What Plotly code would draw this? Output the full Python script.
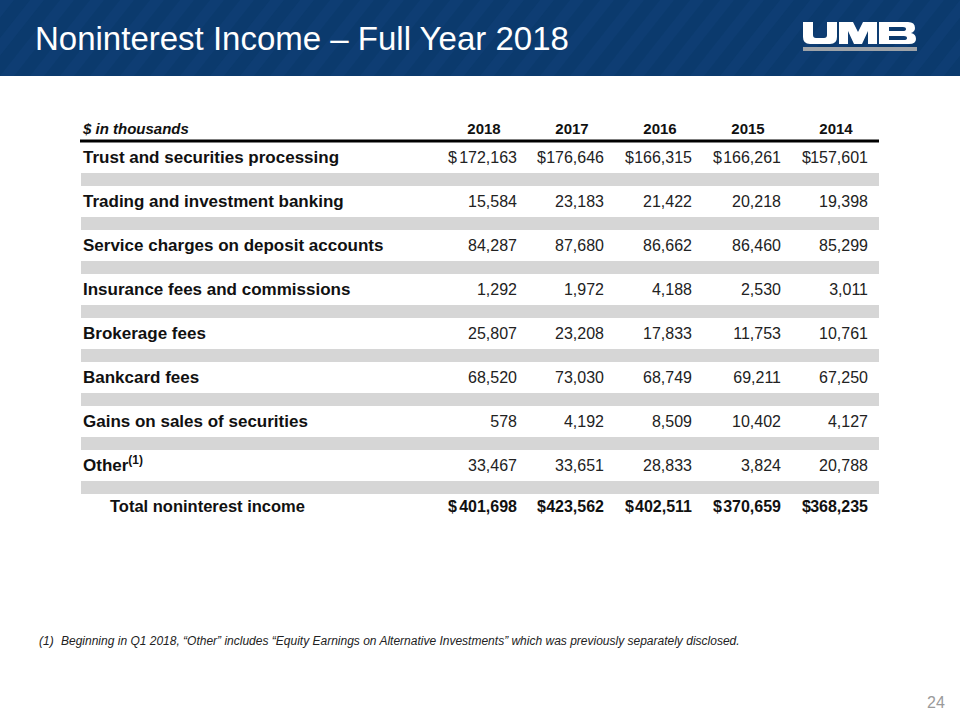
import plotly.graph_objects as go

# ---------------- data ----------------
categories = [
    "Trust and securities processing",
    "Trading and investment banking",
    "Service charges on deposit accounts",
    "Insurance fees and commissions",
    "Brokerage fees",
    "Bankcard fees",
    "Gains on sales of securities",
    "Other<sup>(1)</sup>",
]
years = ["2018", "2017", "2016", "2015", "2014"]
v2018 = [172163, 15584, 84287, 1292, 25807, 68520, 578, 33467]
v2017 = [176646, 23183, 87680, 1972, 23208, 73030, 4192, 33651]
v2016 = [166315, 21422, 86662, 4188, 17833, 68749, 8509, 28833]
v2015 = [166261, 20218, 86460, 2530, 11753, 69211, 10402, 3824]
v2014 = [157601, 19398, 85299, 3011, 10761, 67250, 4127, 20788]
totals = [401698, 423562, 402511, 370659, 368235]
total_label = "Total noninterest income"
unit_label = "$ in thousands"
title = "Noninterest Income – Full Year 2018"
footnote = "Beginning in Q1 2018, “Other” includes “Equity Earnings on Alternative Investments” which was previously separately disclosed."
page_no = "24"

series = [v2018, v2017, v2016, v2015, v2014]

# ---------------- layout geometry (pixel space) ----------------
W, H = 960, 720
col_right = [517, 604, 692, 781, 868]
col_dollar = [448, 537, 625, 713, 802]
col_center = [484, 572, 660, 748, 836]
row_y0, row_pitch = 157, 44
band_y0 = 173
label_x = 83
header_y = 130
FONT = "Liberation Sans, Arial"

fig = go.Figure()

# header band
shapes = [dict(type="rect", xref="x", yref="y", x0=0, x1=W, y0=0, y1=76,
               fillcolor="#0b3a6d", line_width=0, layer="below")]
for k in range(-3, 40):
    x0 = k * 30
    shapes.append(dict(type="path", xref="x", yref="y",
                       path=f"M{x0},76 L{x0+14},76 L{x0+14+60},0 L{x0+60},0 Z",
                       fillcolor="#12437a", line_width=0, layer="below", opacity=0.45))
# logo
umb_u = "M803,22 L813,22 L813,35 Q813,38 816,38 L824,38 Q827,38 827,35 L827,22 L837,22 L837,37 Q837,44 830,44 L810,44 Q803,44 803,37 Z"
umb_m = "M839,22 L853,22 L858,32 L863,22 L877,22 L877,44 L868,44 L868,31 L862,44 L854,44 L848,31 L848,44 L839,44 Z"
umb_b = ("M879,22 L908,22 Q915,22 915,28 Q915,31.5 911,33 Q916,34 916,39 Q916,44 909,44 L879,44 Z "
         "M889,27 L903,27 Q906,27 906,29 Q906,31 903,31 L889,31 Z "
         "M889,36 L904,36 Q907,36 907,38 Q907,40 904,40 L889,40 Z")
for p in (umb_u, umb_m, umb_b):
    shapes.append(dict(type="path", xref="x", yref="y", path=p, fillcolor="white",
                       line_width=0, fillrule="evenodd"))
shapes.append(dict(type="rect", xref="x", yref="y", x0=803, x1=917, y0=47, y1=51,
                   fillcolor="#9ea3a8", line_width=0))

# thick rule under header
shapes.append(dict(type="line", xref="x", yref="y", x0=80, x1=879, y0=141, y1=141,
                   line=dict(color="black", width=3)))
# gray separator bands
for i in range(len(categories)):
    yb = band_y0 + i * row_pitch
    shapes.append(dict(type="rect", xref="x", yref="y", x0=81, x1=879, y0=yb, y1=yb + 13,
                       fillcolor="#d6d6d6", line_width=0, layer="below"))

row_ys = [row_y0 + 1.5 + i * row_pitch for i in range(len(categories))]
total_y = row_y0 + len(categories) * row_pitch - 1

# row labels
fig.add_trace(go.Scatter(x=[label_x] * len(categories), y=row_ys, mode="text",
                         text=[f"<b>{c}</b>" for c in categories], textposition="middle right",
                         textfont=dict(family=FONT, size=17, color="#111111"),
                         hoverinfo="skip"))
fig.add_trace(go.Scatter(x=[110], y=[total_y], mode="text", text=[f"<b>{total_label}</b>"],
                         textposition="middle right",
                         textfont=dict(family=FONT, size=16.5, color="#111111"),
                         hoverinfo="skip"))
# unit label
fig.add_trace(go.Scatter(x=[label_x], y=[header_y], mode="text", text=[f"<b><i>{unit_label}</i></b>"],
                         textposition="middle right",
                         textfont=dict(family=FONT, size=15, color="#111111"),
                         hoverinfo="skip"))
# year headers
fig.add_trace(go.Scatter(x=col_center, y=[header_y] * 5, mode="text",
                         text=[f"<b>{y}</b>" for y in years], textposition="middle center",
                         textfont=dict(family=FONT, size=15, color="#111111"),
                         hoverinfo="skip"))
# values
for j, vals in enumerate(series):
    fig.add_trace(go.Scatter(x=[col_right[j]] * len(vals), y=row_ys, mode="text",
                             text=[f"{v:,}" for v in vals], textposition="middle left",
                             textfont=dict(family=FONT, size=16, color="#222222"),
                             hoverinfo="skip"))
# dollar signs (first row and total)
fig.add_trace(go.Scatter(x=col_dollar, y=[row_ys[0]] * 5, mode="text", text=["$"] * 5,
                         textposition="middle right",
                         textfont=dict(family=FONT, size=16, color="#222222"),
                         hoverinfo="skip"))
fig.add_trace(go.Scatter(x=col_dollar, y=[total_y] * 5, mode="text", text=["<b>$</b>"] * 5,
                         textposition="middle right",
                         textfont=dict(family=FONT, size=16, color="#111111"),
                         hoverinfo="skip"))
# totals
fig.add_trace(go.Scatter(x=col_right, y=[total_y] * 5, mode="text",
                         text=[f"<b>{v:,}</b>" for v in totals], textposition="middle left",
                         textfont=dict(family=FONT, size=16, color="#111111"),
                         hoverinfo="skip"))

annotations = [
    dict(x=33, y=38, xref="x", yref="y", text=title, showarrow=False, xanchor="left",
         yanchor="middle", font=dict(family="Liberation Sans Narrow, Arial Narrow, Liberation Sans",
                                     size=33, color="white")),
    dict(x=37, y=641, xref="x", yref="y", text="<i>(1)</i>", showarrow=False, xanchor="left",
         yanchor="middle", font=dict(family="Liberation Sans Narrow, Liberation Sans", size=12, color="#222222")),
    dict(x=59, y=641, xref="x", yref="y", text=f"<i>{footnote}</i>", showarrow=False, xanchor="left",
         yanchor="middle", font=dict(family="Liberation Sans Narrow, Liberation Sans", size=12, color="#222222")),
    dict(x=947, y=702, xref="x", yref="y", text=page_no, showarrow=False, xanchor="right",
         yanchor="middle", font=dict(family="Liberation Sans Narrow, Liberation Sans", size=16, color="#9a9a9a")),
]

fig.update_layout(
    width=W, height=H, margin=dict(l=0, r=0, t=0, b=0),
    paper_bgcolor="white", plot_bgcolor="white", showlegend=False,
    xaxis=dict(range=[0, W], visible=False, fixedrange=True),
    yaxis=dict(range=[H, 0], visible=False, fixedrange=True),
    shapes=shapes, annotations=annotations,
)
fig.write_html("out.html", config={"displayModeBar": False},
               post_script="document.body.style.margin='0';document.body.style.overflow='hidden';")
